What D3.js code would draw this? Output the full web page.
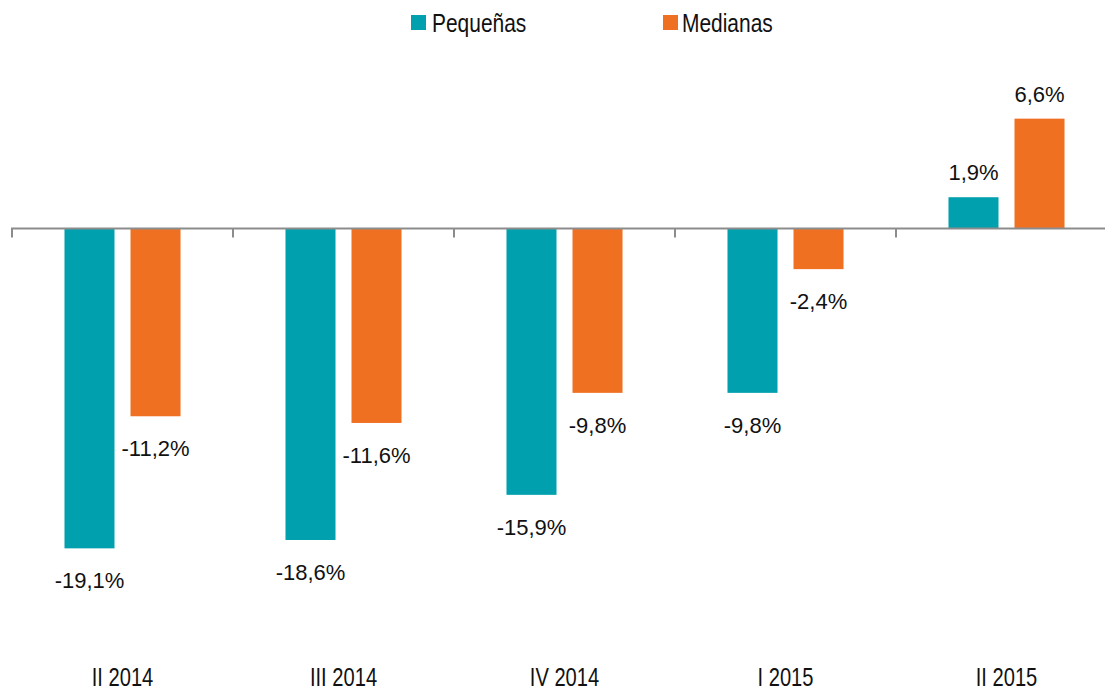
<!DOCTYPE html>
<html>
<head>
<meta charset="utf-8">
<script src="https://cdn.jsdelivr.net/npm/d3@7"></script>
<style>
  body { margin: 0; background: #fff; }
  svg text { font-family: "Liberation Sans", Arial, sans-serif; fill: #111; }
</style>
</head>
<body>
<div id="chart"></div>
<script>
const width = 1105, height = 691;

const categories = ["II 2014", "III 2014", "IV 2014", "I 2015", "II 2015"];
const series = ["Pequeñas", "Medianas"];
const pequenas = [-19.1, -18.6, -15.9, -9.8, 1.9];
const medianas = [-11.2, -11.6, -9.8, -2.4, 6.6];
const colors = ["#00A0AE", "#F07022"];

const data = categories.map((c, i) => ({cat: c, values: [pequenas[i], medianas[i]]}));

const svg = d3.select('#chart').append("svg")
    .attr("width", width)
    .attr("height", height);

const x0 = d3.scaleBand()
    .domain(categories)
    .range([12, 1117]);

const x1 = d3.scaleBand()
    .domain(series)
    .range([0, x0.bandwidth()])
    .paddingInner(0.2424)
    .paddingOuter(0.795);

const y = d3.scaleLinear()
    .domain([0, 1])
    .range([229, 212.28]);

const fmt = v => d3.format(".1f")(v).replace("−", "-").replace(".", ",") + "%";

// bars
const groups = svg.append("g")
    .selectAll("g")
    .data(data)
    .enter().append("g")
    .attr("transform", d => "translate(" + x0(d.cat) + ",0)");

groups.selectAll("rect")
    .data(d => d.values.map((v, i) => ({key: series[i], value: v, i: i})))
    .enter().append("rect")
    .attr("x", d => x1(d.key))
    .attr("width", x1.bandwidth())
    .attr("y", d => Math.min(y(0), y(d.value)))
    .attr("height", d => Math.abs(y(d.value) - y(0)))
    .attr("fill", d => colors[d.i]);

groups.selectAll("text.val")
    .data(d => d.values.map((v, i) => ({key: series[i], value: v})))
    .enter().append("text")
    .attr("class", "val")
    .attr("x", d => x1(d.key) + x1.bandwidth() / 2)
    .attr("y", d => d.value >= 0 ? y(d.value) - 17 : y(d.value) + 40)
    .attr("text-anchor", "middle")
    .attr("font-size", 22)
    .text(d => fmt(d.value));

// axis line + ticks
const axis = svg.append("g");
axis.append("line")
    .attr("x1", 11).attr("x2", width)
    .attr("y1", 228.5).attr("y2", 228.5)
    .attr("stroke", "#8c8c8c")
    .attr("stroke-width", 2);
axis.selectAll("line.tick")
    .data(categories)
    .enter().append("line")
    .attr("class", "tick")
    .attr("x1", d => x0(d)).attr("x2", d => x0(d))
    .attr("y1", 228.5).attr("y2", 237.5)
    .attr("stroke", "#8c8c8c")
    .attr("stroke-width", 2);

// category labels (narrow)
svg.append("g")
    .selectAll("text")
    .data(categories)
    .enter().append("text")
    .attr("transform", d => "translate(" + (x0(d) + x0.bandwidth() / 2) + ",686) scale(0.79,1)")
    .attr("text-anchor", "middle")
    .attr("font-size", 25.5)
    .text(d => d);

// legend
const legendX = [411, 663];
const legend = svg.append("g")
    .selectAll("g")
    .data(series)
    .enter().append("g")
    .attr("transform", (d, i) => "translate(" + legendX[i] + ",15)");
legend.append("rect")
    .attr("width", 15).attr("height", 15)
    .attr("fill", (d, i) => colors[i]);
legend.append("text")
    .attr("transform", (d, i) => "translate(" + (i === 0 ? 21 : 19) + ",17) scale(0.79,1)")
    .attr("font-size", 26.5)
    .text(d => d);
</script>
</body>
</html>
